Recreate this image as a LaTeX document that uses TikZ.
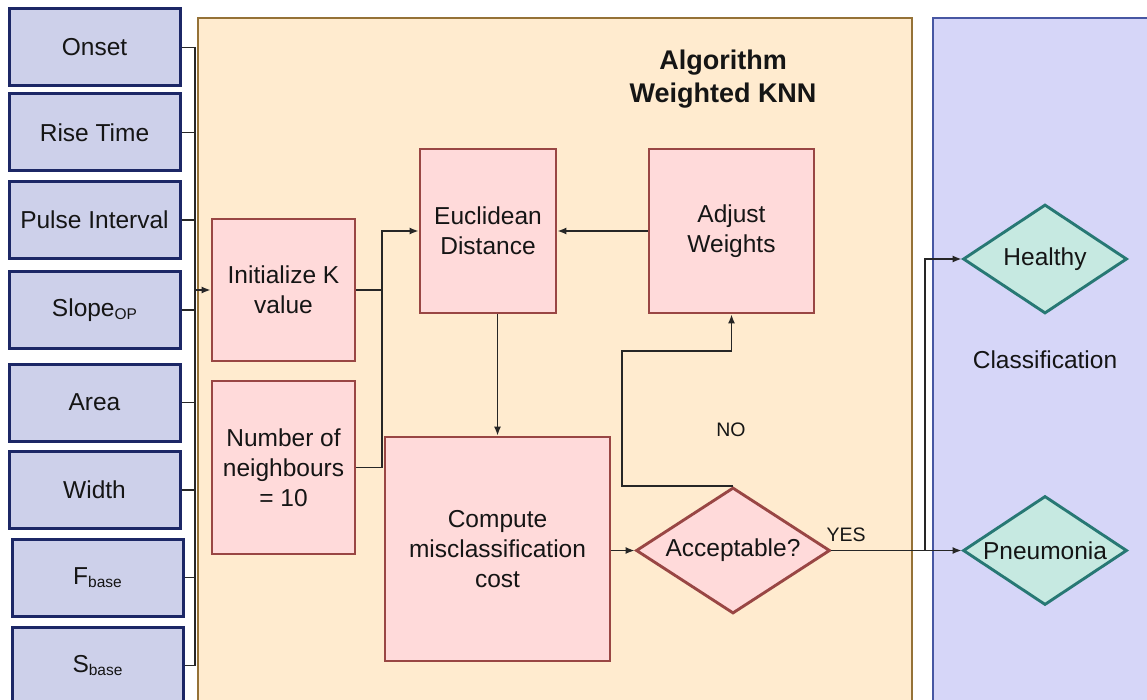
\documentclass[tikz,border=0pt]{standalone}
\usepackage{fontspec}
\setmainfont{Liberation Sans}
\usetikzlibrary{arrows.meta,shapes.geometric}

\definecolor{inFill}{HTML}{CDD0EA}
\definecolor{inLine}{HTML}{1C2766}
\definecolor{algFill}{HTML}{FFEBCF}
\definecolor{algLine}{HTML}{957237}
\definecolor{clsFill}{HTML}{D6D6F8}
\definecolor{clsLine}{HTML}{4757A3}
\definecolor{stepFill}{HTML}{FFDADA}
\definecolor{stepLine}{HTML}{994644}
\definecolor{outFill}{HTML}{C6E9E1}
\definecolor{outLine}{HTML}{277874}
\definecolor{ink}{HTML}{151515}
\definecolor{wirecol}{HTML}{262626}

% small lowered index, e.g. Slope_OP
\newcommand{\lowidx}[1]{\raisebox{-0.28ex}{\fontsize{15.5}{16}\selectfont #1}}

\begin{document}
\begin{tikzpicture}[x=1pt,y=-1pt,
  every node/.style={text=ink, font=\fontsize{24.5}{30}\selectfont},
  inbox/.style={draw=inLine, fill=inFill, line width=3pt,
    minimum width=171pt, minimum height=77pt, inner sep=0pt},
  stepbox/.style={draw=stepLine, fill=stepFill, line width=2.9pt,
    inner sep=0pt, align=center},
  decision/.style={shape=diamond, draw=stepLine, fill=stepFill,
    line width=2.9pt, inner sep=0pt, aspect=1.53},
  result/.style={shape=diamond, draw=outLine, fill=outFill,
    line width=2.9pt, inner sep=0pt, aspect=1.5,
    minimum width=164pt, minimum height=109pt},
  wire/.style={draw=wirecol, line width=1.4pt},
  arr/.style={wire, -{Latex[length=9pt,width=7pt]}},
  flowtag/.style={font=\fontsize{19.5}{22}\selectfont},
]
\useasboundingbox (0,0) rectangle (1147,700);
\clip (0,0) rectangle (1147,700);

% background panels
\draw[draw=algLine, fill=algFill, line width=2.8pt] (198,18) rectangle (912,715);
\draw[draw=clsLine, fill=clsFill, line width=2.6pt] (933,18) rectangle (1160,715);

\node[font=\bfseries\fontsize{27}{33}\selectfont, align=center] (title) at (723,79)
  {Algorithm\\Weighted KNN};
\node (cls) at (1045,360) {Classification};

% input features
\node[inbox] (onset) at (94.5,47.5)  {Onset};
\node[inbox] (rise)  at (94.5,132.5) {Rise Time};
\node[inbox] (pulse) at (94.5,220)   {Pulse Interval};
\node[inbox] (slope) at (94.5,310)   {Slope\lowidx{OP}};
\node[inbox] (area)  at (94.5,402.5) {Area};
\node[inbox] (width) at (94.5,490)   {Width};
\node[inbox] (fbase) at (97.5,577.5) {F\lowidx{base}};
\node[inbox] (sbase) at (97.5,665.5) {S\lowidx{base}};

% algorithm steps
\node[stepbox, minimum width=143pt, minimum height=142pt] (init)   at (283.5,290)
  {Initialize K\\value};
\node[stepbox, minimum width=143pt, minimum height=173pt] (neigh)  at (283.5,467.5)
  {Number of\\neighbours\\= 10};
\node[stepbox, minimum width=136pt, minimum height=164pt] (eucl)   at (488,231)
  {Euclidean\\Distance};
\node[stepbox, minimum width=165pt, minimum height=164pt] (adjust) at (731.5,231)
  {Adjust\\Weights};
\node[stepbox, minimum width=225pt, minimum height=224pt] (cost)   at (497.5,549)
  {Compute\\misclassification\\cost};
\node[decision, minimum width=194pt, minimum height=126pt] (accept) at (733,550.5)
  {Acceptable?};

% classes
\node[result] (healthy) at (1045,259)   {Healthy};
\node[result] (pneu)    at (1045,550.5) {Pneumonia};

% feature bus into the algorithm
\coordinate (bus) at (195,290);
\foreach \n in {onset,rise,pulse,slope,area,width,fbase,sbase}
  \draw[wire] (\n.east) -- (\n.east -| bus) -- (bus);
\draw[arr] (bus) -- (init.west);

% parameters into distance computation
\coordinate (join) at (382,290);
\draw[wire] (init.east) -- (join);
\draw[arr] (neigh.east) -- (neigh.east -| join) |- (eucl.west);
\draw[arr] (adjust.west) -- (eucl.east);
\draw[arr] (eucl.south -| cost.north) -- (cost.north);
\draw[arr] (cost.east |- accept.west) -- (accept.west);

% NO: feed back to weight adjustment
\coordinate (noturn) at (622,351);
\draw[arr] (accept.north) -| (noturn) -| (adjust.south);
\node[flowtag] (no) at (731,430) {NO};

% YES: split to the two classes
\coordinate (split) at (925,550.5);
\draw[wire] (accept.east) -- (split);
\draw[arr] (split) |- (healthy.west);
\draw[arr] (split) -- (pneu.west);
\node[flowtag] (yes) at (846,535) {YES};
\end{tikzpicture}
\end{document}
